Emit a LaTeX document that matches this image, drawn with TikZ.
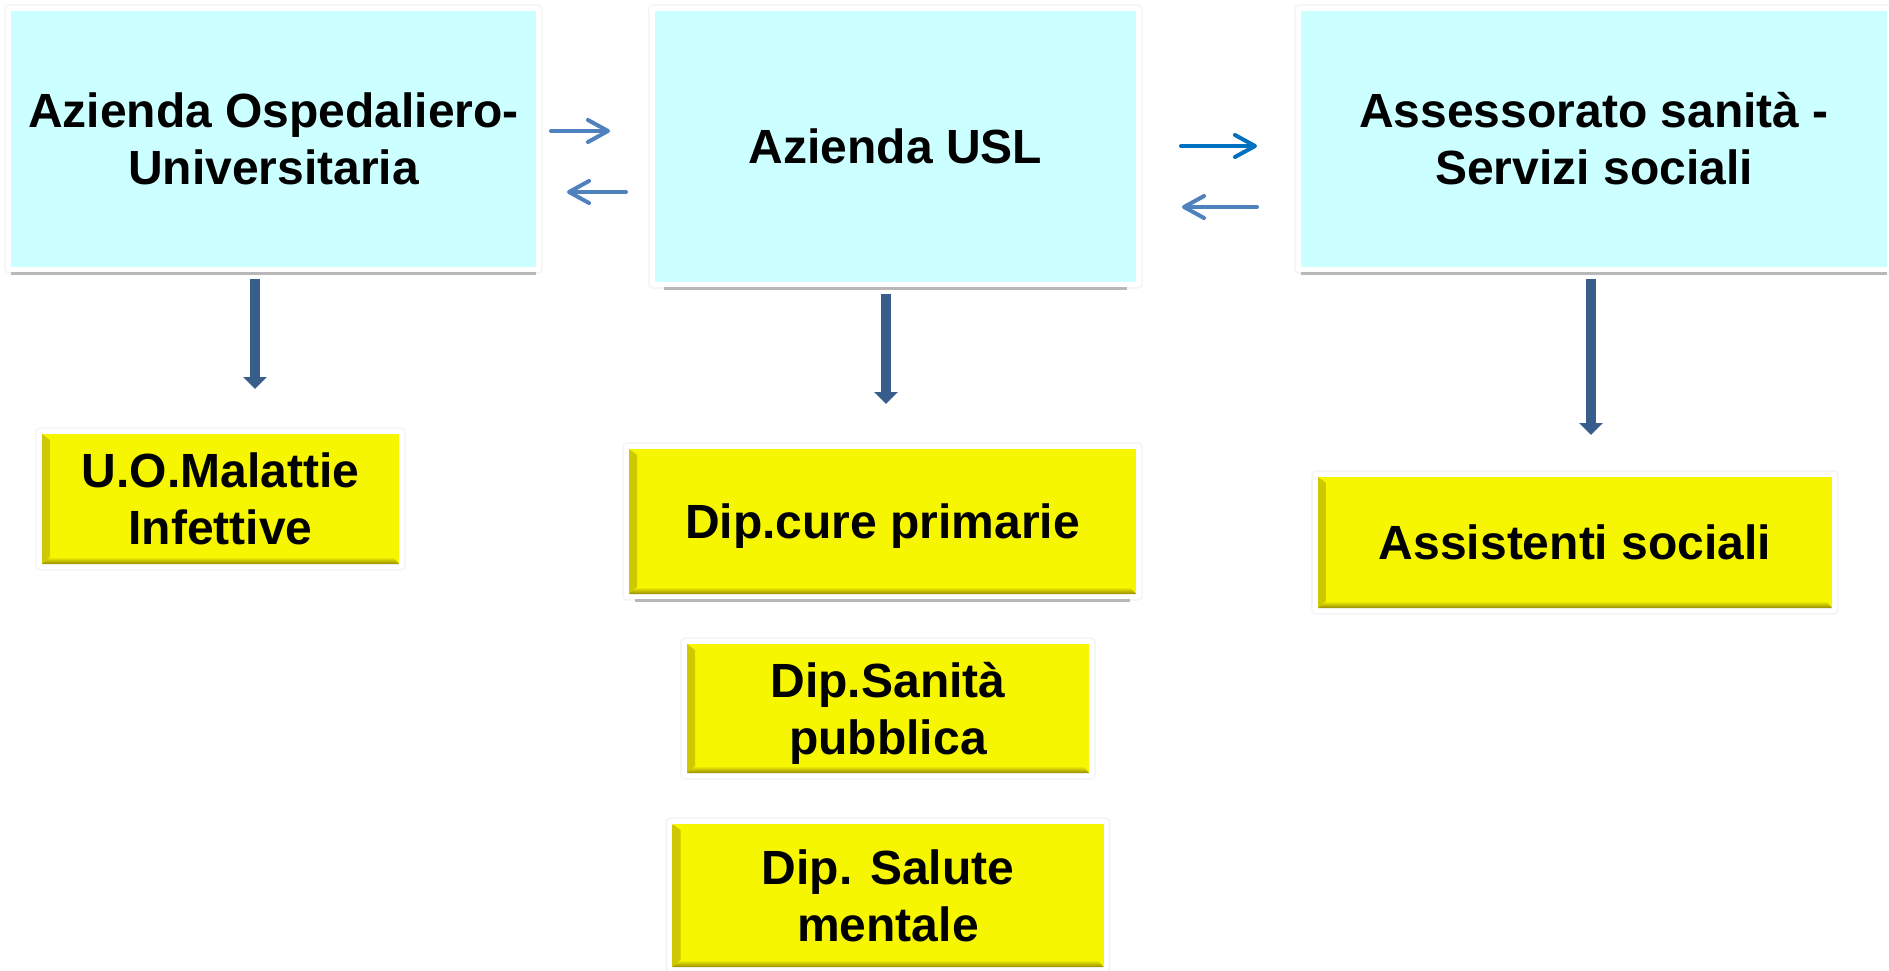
\documentclass[tikz,border=0pt]{standalone}
\usepackage{fontspec}
\setmainfont{Liberation Sans}
\usepackage{tikz}
\usetikzlibrary{calc, positioning, arrows.meta}
\definecolor{Cielo}{RGB}{204,255,255}
\definecolor{Giallo}{RGB}{246,246,0}
\definecolor{GialloScuro}{RGB}{150,140,0}
\definecolor{GialloMedio}{RGB}{205,200,0}
\definecolor{Blu1}{RGB}{79,129,189}
\definecolor{Blu2}{RGB}{0,112,192}
\definecolor{BluScuro}{RGB}{56,93,138}

\begin{document}
\begin{tikzpicture}[
  x=0.5pt, y=-0.5pt,
  ente/.style={
    rectangle, fill=Cielo,
    inner sep=0pt, outer sep=0pt,
    align=center, font=\fontsize{24}{28.5}\selectfont\bfseries
  },
  dipart/.style={
    rectangle, fill=Giallo,
    inner sep=0pt, outer sep=0pt,
    align=center, font=\fontsize{24}{28.5}\selectfont\bfseries,
    path picture={
      \shade[left color=GialloMedio, right color=Giallo]
        (path picture bounding box.south west)
        -- ([shift={(4pt,3pt)}]path picture bounding box.south west)
        -- ([shift={(4pt,-3pt)}]path picture bounding box.north west)
        -- (path picture bounding box.north west) -- cycle;
      \shade[top color=Giallo, bottom color=GialloScuro]
        (path picture bounding box.south west)
        -- (path picture bounding box.south east)
        -- ([shift={(-3pt,3.5pt)}]path picture bounding box.south east)
        -- ([shift={(4pt,3.5pt)}]path picture bounding box.south west) -- cycle;
    }
  },
  una riga/.style={text height=17.2pt, text depth=0pt},
  due righe/.style={text height=45.7pt, text depth=0pt},
  cornice/.style={draw=black!5, line width=0.6pt, rounded corners=2pt},
  ombra/.style={draw=black!28, line width=1.5pt},
  freccia/.style={
    -{Straight Barb[length=10pt, width=11pt, round]},
    line width=2pt, line cap=round, color=#1
  },
  freccia/.default=Blu1,
  giu/.style={
    -{Triangle[length=6pt, width=11.5pt]}, line width=5pt, color=BluScuro
  }
]
\useasboundingbox[fill=white] (0,0) rectangle (1889,970);

\node[ente, due righe, minimum width=262.5pt, minimum height=128pt, anchor=north west] (aou) at (11,11) {Azienda Ospedaliero-\\Universitaria};
\node[ente, una riga, minimum width=240.5pt, minimum height=135.5pt, anchor=north west] (usl) at (655,11) {Azienda USL};
\node[ente, due righe, minimum width=293pt, minimum height=128pt, anchor=north west] (ass) at (1301,11) {Assessorato sanità -\\Servizi sociali};

\node[dipart, due righe, minimum width=178.5pt, minimum height=65pt, anchor=north west] (uo) at (42,434) {U.O.Malattie\\Infettive};
\node[dipart, una riga, minimum width=253.5pt, minimum height=72.5pt, anchor=north west] (cure) at (629,449) {Dip.cure primarie};
\node[dipart, due righe, minimum width=201pt, minimum height=64.5pt, below=25pt of cure, xshift=2.75pt] (sanita) {Dip.Sanità\\pubblica};
\node[dipart, due righe, minimum width=215.5pt, minimum height=71.5pt, below=25.5pt of sanita] (salute) {Dip. Salute\\mentale};
\node[dipart, una riga, minimum width=257pt, minimum height=65.5pt, anchor=north west] (asoc) at (1318,477) {Assistenti sociali};

\foreach \n in {aou,usl,ass,uo,cure,sanita,salute,asoc}
  \draw[cornice] ([shift={(-3pt,-3pt)}]\n.south west) rectangle ([shift={(3pt,3pt)}]\n.north east);
\foreach \n/\r in {aou/0pt,usl/4.5pt,ass/0pt,cure/3pt}
  \draw[ombra] ([shift={(\r,-3pt)}]\n.south west) -- ([shift={(-\r,-3pt)}]\n.south east);

\draw[freccia] ($(aou.east)+(15,-8)$) -- ($(usl.west)+(-45,-15.5)$);
\draw[freccia] ($(usl.west)+(-29,45.5)$) -- ($(aou.east)+(31,53)$);
\draw[freccia=Blu2] ($(usl.east)+(45,-0.5)$) -- ($(ass.west)+(-44,7)$);
\draw[freccia] ($(ass.west)+(-44,68)$) -- ($(usl.east)+(46,60.5)$);

\draw[giu] ($(aou.south)+(-18.5,12)$) -- ($(uo.north)+(34.5,-45)$);
\draw[giu] ($(usl.south)+(-9.5,12)$) -- ($(cure.north)+(3.5,-45)$);
\draw[giu] ($(ass.south)+(-3,12)$) -- ($(asoc.north)+(16,-42)$);
\end{tikzpicture}
\end{document}
